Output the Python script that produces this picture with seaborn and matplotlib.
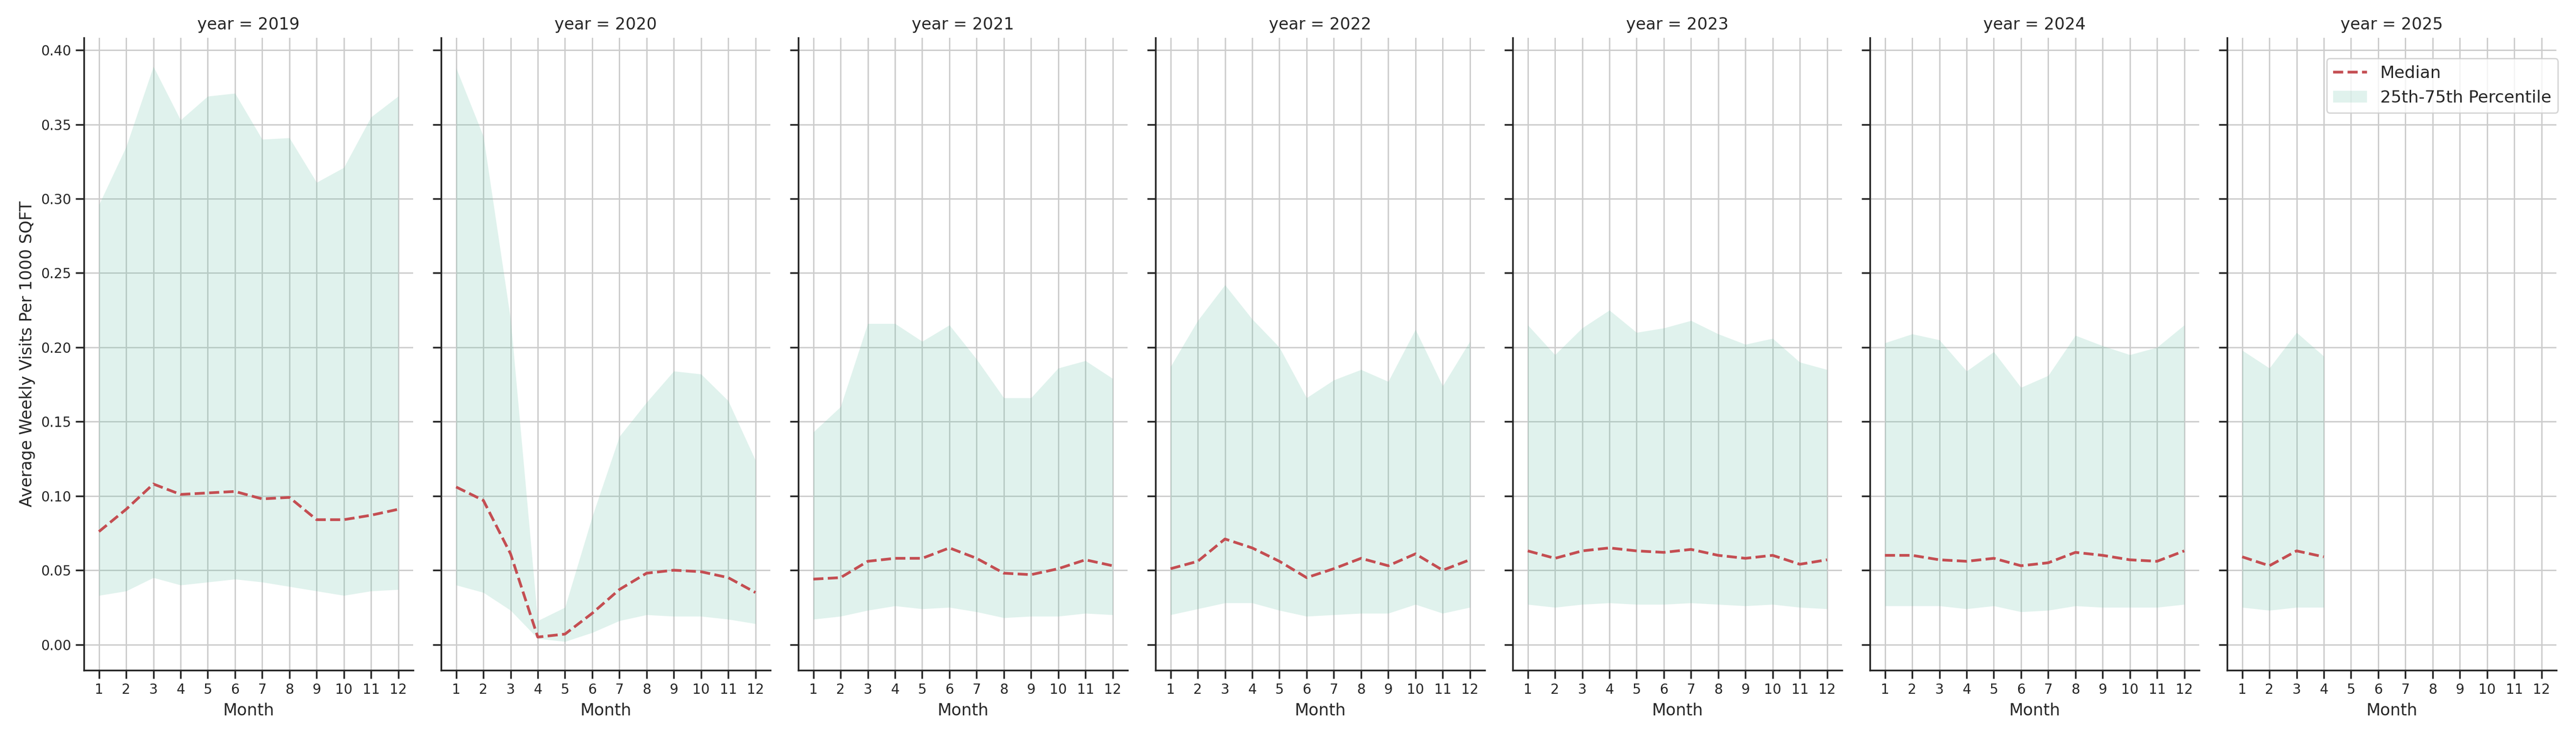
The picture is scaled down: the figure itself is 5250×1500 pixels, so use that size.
import pandas as pd
import matplotlib.pyplot as plt
import seaborn as sns

# dados: percentil 25, mediana e percentil 75 por mes
years = [2019, 2020, 2021, 2022, 2023, 2024, 2025]

p25_2019 = [0.033, 0.036, 0.045, 0.040, 0.042, 0.044, 0.042, 0.039, 0.036, 0.033, 0.036, 0.037]
med_2019 = [0.076, 0.091, 0.108, 0.101, 0.102, 0.103, 0.098, 0.099, 0.084, 0.084, 0.087, 0.091]
p75_2019 = [0.296, 0.335, 0.389, 0.353, 0.369, 0.371, 0.340, 0.341, 0.311, 0.321, 0.355, 0.369]

p25_2020 = [0.040, 0.035, 0.023, 0.004, 0.002, 0.008, 0.016, 0.020, 0.019, 0.019, 0.017, 0.014]
med_2020 = [0.106, 0.097, 0.061, 0.005, 0.007, 0.021, 0.037, 0.048, 0.050, 0.049, 0.045, 0.035]
p75_2020 = [0.388, 0.342, 0.219, 0.016, 0.025, 0.086, 0.140, 0.163, 0.184, 0.182, 0.164, 0.124]

p25_2021 = [0.017, 0.019, 0.023, 0.026, 0.024, 0.025, 0.022, 0.018, 0.019, 0.019, 0.021, 0.020]
med_2021 = [0.044, 0.045, 0.056, 0.058, 0.058, 0.065, 0.058, 0.048, 0.047, 0.051, 0.057, 0.053]
p75_2021 = [0.143, 0.160, 0.216, 0.216, 0.204, 0.215, 0.192, 0.166, 0.166, 0.186, 0.191, 0.179]

p25_2022 = [0.020, 0.024, 0.028, 0.028, 0.023, 0.019, 0.020, 0.021, 0.021, 0.027, 0.021, 0.025]
med_2022 = [0.051, 0.056, 0.071, 0.065, 0.056, 0.045, 0.051, 0.058, 0.053, 0.061, 0.050, 0.057]
p75_2022 = [0.187, 0.218, 0.242, 0.219, 0.200, 0.166, 0.178, 0.185, 0.177, 0.212, 0.174, 0.204]

p25_2023 = [0.027, 0.025, 0.027, 0.028, 0.027, 0.027, 0.028, 0.027, 0.026, 0.027, 0.025, 0.024]
med_2023 = [0.063, 0.058, 0.063, 0.065, 0.063, 0.062, 0.064, 0.060, 0.058, 0.060, 0.054, 0.057]
p75_2023 = [0.215, 0.195, 0.213, 0.225, 0.210, 0.213, 0.218, 0.209, 0.202, 0.206, 0.190, 0.185]

p25_2024 = [0.026, 0.026, 0.026, 0.024, 0.026, 0.022, 0.023, 0.026, 0.025, 0.025, 0.025, 0.027]
med_2024 = [0.060, 0.060, 0.057, 0.056, 0.058, 0.053, 0.055, 0.062, 0.060, 0.057, 0.056, 0.063]
p75_2024 = [0.203, 0.209, 0.205, 0.184, 0.197, 0.173, 0.181, 0.208, 0.201, 0.195, 0.200, 0.215]

p25_2025 = [0.025, 0.023, 0.025, 0.025]
med_2025 = [0.059, 0.053, 0.063, 0.059]
p75_2025 = [0.198, 0.186, 0.210, 0.194]

p25 = [p25_2019, p25_2020, p25_2021, p25_2022, p25_2023, p25_2024, p25_2025]
med = [med_2019, med_2020, med_2021, med_2022, med_2023, med_2024, med_2025]
p75 = [p75_2019, p75_2020, p75_2021, p75_2022, p75_2023, p75_2024, p75_2025]

linhas = []
for ano, lo, mid, hi in zip(years, p25, med, p75):
    for i in range(len(mid)):
        linhas.append({'year': ano, 'month': i + 1, 'p25': lo[i], 'median': mid[i], 'p75': hi[i]})
df = pd.DataFrame(linhas)

sns.set_theme(context='notebook', style='ticks', rc={'axes.grid': True, 'grid.color': '.8'})
plt.rcParams.update({'xtick.labelsize': 10, 'ytick.labelsize': 10, 'legend.fontsize': 12.3})


def desenhar(data, **kws):
    ax = plt.gca()
    ax.fill_between(data['month'], data['p25'], data['p75'], color='#66c2a5', alpha=0.2, lw=0)
    sns.lineplot(data=data, x='month', y='median', ax=ax, color='#c44e52',
                 linestyle='--', linewidth=2, errorbar=None)


g = sns.FacetGrid(df, col='year', height=7.5, aspect=0.5, sharey=True, sharex=True)
g.map_dataframe(desenhar)
g.set_titles('year = {col_name}')
g.set_axis_labels('Month', 'Average Weekly Visits Per 1000 SQFT')
g.set(xticks=list(range(1, 13)), xlim=(0.45, 12.55))

ax_ult = g.axes.flat[-1]
ax_ult.legend([ax_ult.lines[0], ax_ult.collections[0]], ['Median', '25th-75th Percentile'],
              loc='upper right', bbox_to_anchor=(1.005, 0.967), borderaxespad=0)

g.figure.subplots_adjust(left=0.0326, right=0.9924, top=0.9487, bottom=0.0893, wspace=0.085)
g.figure.savefig('out.png', dpi=200)
